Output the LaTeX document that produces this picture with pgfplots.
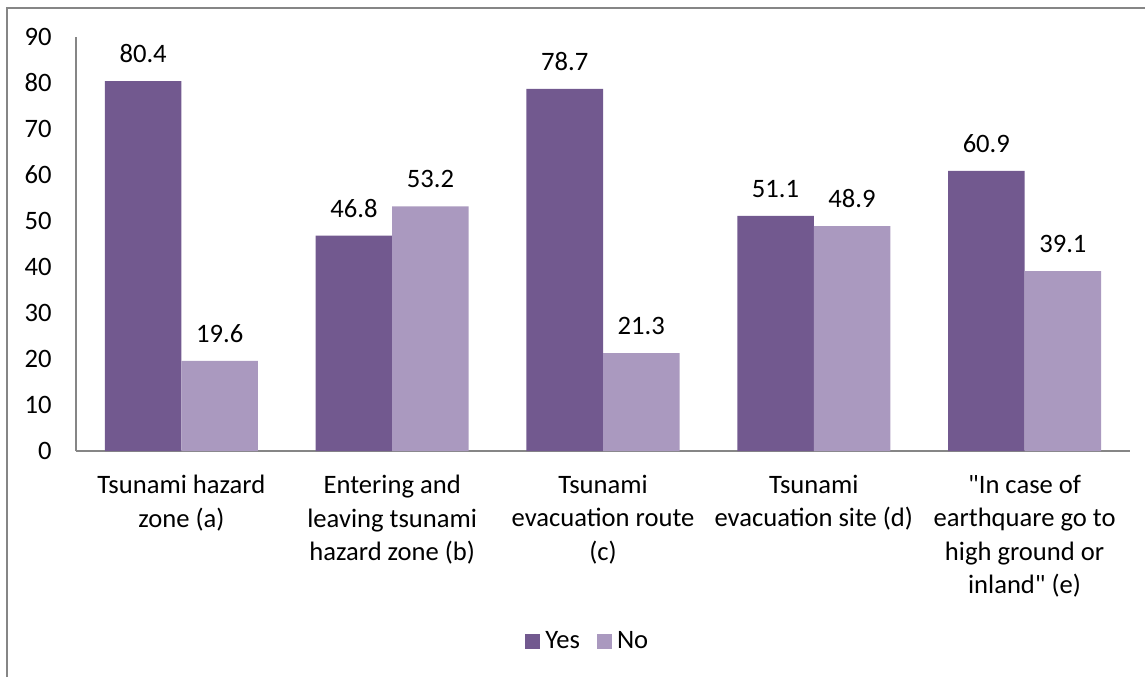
\documentclass[border=0pt]{standalone}
\usepackage{fontspec}
\setmainfont{Carlito}
\newfontfamily\qfont{Carlito}% no TeX ligatures: keeps straight quotes
\usepackage{pgfplots}
\pgfplotsset{compat=1.18}

\definecolor{yescol}{HTML}{72598F}
\definecolor{nocol}{HTML}{AA99BF}
\definecolor{axgray}{HTML}{868686}

\newcommand{\lblfont}{\fontsize{13.3}{16.6}\selectfont}
\newcommand{\sq}{{\qfont"}}

\begin{document}
\begin{tikzpicture}
% page = 1145 x 677 px at 0.5pt per px
\useasboundingbox (0,0) rectangle (572.5pt,338.5pt);
% outer chart frame (only left and top edges fall inside the picture)
\draw[axgray, line width=1pt] (3.5pt,0pt) -- (3.5pt,334.5pt) -- (572.5pt,334.5pt);

\begin{axis}[
    at={(38pt,113pt)}, anchor=south west,
    scale only axis,
    width=527pt, height=207pt,
    ymin=0, ymax=90,
    ytick={0,10,...,90},
    xmin=-0.5, xmax=4.5,
    xtick={0,1,2,3,4},
    xticklabels={
        {Tsunami hazard\\zone (a)},
        {Entering and\\leaving tsunami\\hazard zone (b)},
        {Tsunami\\evacuation route\\(c)},
        {Tsunami\\evacuation site (d)},
        {\sq In case of\\earthquare go to\\high ground or\\inland\sq{} (e)}},
    axis x line*=bottom, axis y line*=left,
    axis line style={draw=axgray, line width=1pt},
    major tick length=0pt,
    tick label style={font=\lblfont},
    xticklabel style={align=center, inner sep=0pt, yshift=-12pt},
    yticklabel style={inner sep=0pt, xshift=-12pt},
    /pgf/number format/assume math mode=true,
    ybar, bar width=0.363,
    nodes near coords,
    nodes near coords style={font=\lblfont, inner sep=0pt, yshift=9pt,
        /pgf/number format/.cd, fixed, fixed zerofill, precision=1, assume math mode=true},
    legend style={at={(0.487,-0.46)}, anchor=center, draw=none,
        font=\lblfont, inner sep=0pt,
        nodes={inner sep=2.5pt},
        /tikz/every even column/.append style={column sep=6pt}},
    legend columns=2,
    legend image code/.code={\fill[#1] (0pt,-3.75pt) rectangle (7.5pt,3.75pt);},
]
\addplot[draw=none, fill=yescol, bar shift=-0.1815] coordinates {
    (0,80.4) (1,46.8) (2,78.7) (3,51.1) (4,60.9)};
\addlegendentry{Yes}
\addplot[draw=none, fill=nocol, bar shift=0.1815] coordinates {
    (0,19.6) (1,53.2) (2,21.3) (3,48.9) (4,39.1)};
\addlegendentry{No}
\end{axis}
\end{tikzpicture}
\end{document}
